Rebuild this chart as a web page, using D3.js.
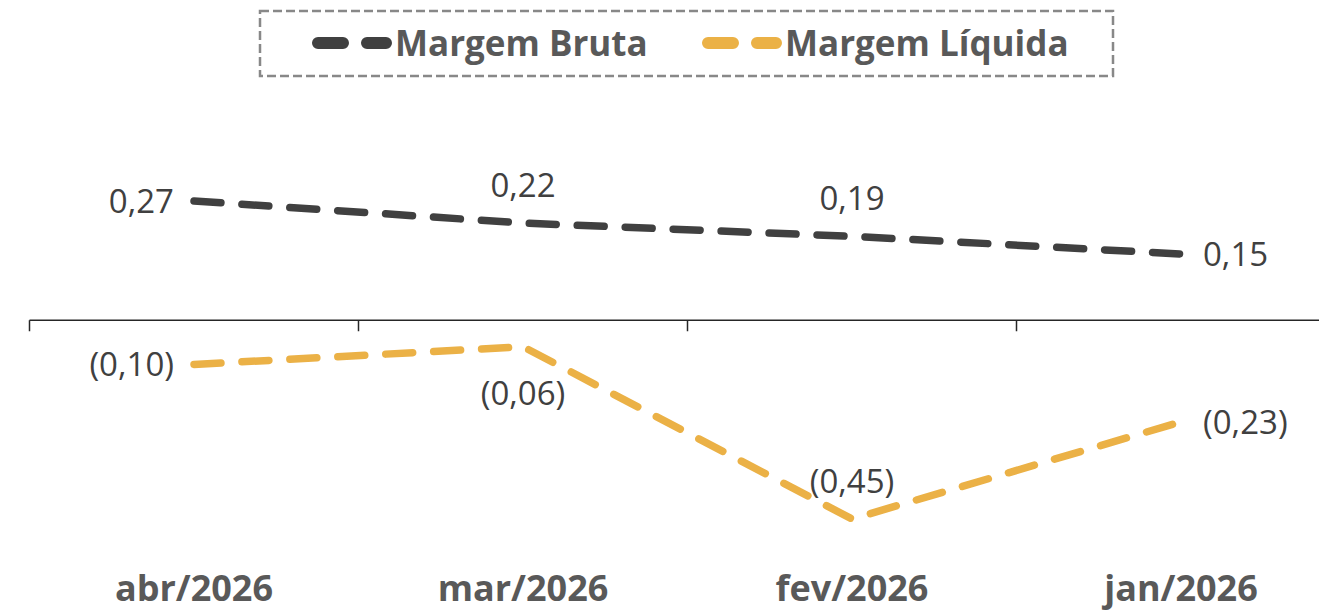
<!DOCTYPE html>
<html><head><meta charset="utf-8">
<script src="https://cdn.jsdelivr.net/npm/d3@7"></script>
<style>
html,body{margin:0;padding:0;background:#fff;}
svg{display:block;font-family:"Open Sans","Noto Sans",sans-serif;}
</style></head>
<body>
<svg id="chart" width="1319" height="612"></svg>
<script>
const categories = ["abr/2026", "mar/2026", "fev/2026", "jan/2026"];
const margemBruta = [0.27, 0.22, 0.19, 0.15];
const margemLiquida = [-0.10, -0.06, -0.45, -0.23];
const seriesNames = ["Margem Bruta", "Margem Líquida"];
const seriesColors = ["#404040", "#EBB146"];

const svg = d3.select("#chart");
const x = d3.scaleBand().domain(categories).range([29.5, 1345.5]);
const y = d3.scaleLinear().domain([-0.45, 0.27]).range([519, 201]);

function fmt(v){
  const s = Math.abs(v).toFixed(2).replace(".", ",");
  return v < 0 ? "(" + s + ")" : s;
}

// axis
const axis = svg.append("g").attr("transform", `translate(0,${y(0)})`);
axis.append("line").attr("x1", 29.5).attr("x2", 1319).attr("stroke", "#262626").attr("stroke-width", 1.5);
axis.selectAll("line.tk").data(categories).join("line").attr("class", "tk")
  .attr("x1", d => x(d)).attr("x2", d => x(d)).attr("y1", 0).attr("y2", 11)
  .attr("stroke", "#262626").attr("stroke-width", 1.5);

// x labels
svg.append("g").selectAll("text").data(categories).join("text")
  .attr("x", d => x(d) + x.bandwidth()/2)
  .attr("y", 601)
  .attr("text-anchor", "middle")
  .attr("font-size", 36).attr("font-weight", "bold").attr("fill", "#595959")
  .text(d => d);

const line = d3.line()
  .x((d, i) => x(categories[i]) + x.bandwidth()/2)
  .y(d => y(d));

const allSeries = [margemBruta, margemLiquida];
allSeries.forEach((vals, si) => {
  svg.append("path").datum(vals)
    .attr("d", line)
    .attr("fill", "none")
    .attr("stroke", seriesColors[si])
    .attr("stroke-width", 7.5)
    .attr("stroke-linecap", "round")
    .attr("stroke-linejoin", "round")
    .attr("stroke-dasharray", "27,21");
});

// data labels: placement per point
const placement = [["left", "above", "above", "right"], ["left", "below", "above", "right"]];
allSeries.forEach((vals, si) => {
  vals.forEach((v, i) => {
    const cx = x(categories[i]) + x.bandwidth()/2, cy = y(v);
    const p = placement[si][i];
    let tx = cx, ty = cy, anchor = "middle";
    if (p === "left") { tx = cx - 20; anchor = "end"; ty = cy + 12; }
    if (p === "right") { tx = cx + 22; anchor = "start"; ty = cy + 12; }
    if (p === "above") { ty = cy - 26; }
    if (p === "below") { ty = cy + 58; }
    svg.append("text").attr("x", tx).attr("y", ty).attr("text-anchor", anchor)
      .attr("font-size", 33).attr("fill", "#404040").text(fmt(v));
  });
});

// legend
const lg = svg.append("g");
lg.append("rect").attr("x", 260).attr("y", 11).attr("width", 853).attr("height", 65)
  .attr("fill", "none").attr("stroke", "#888").attr("stroke-width", 2.5).attr("stroke-dasharray", "9,4");
const legX = [318, 708];
seriesNames.forEach((n, i) => {
  lg.append("line").attr("x1", legX[i]).attr("x2", legX[i] + 68).attr("y1", 43).attr("y2", 43)
    .attr("stroke", seriesColors[i]).attr("stroke-width", 12).attr("stroke-linecap", "round")
    .attr("stroke-dasharray", "25,24");
  lg.append("text").attr("x", legX[i] + 77).attr("y", 56).attr("font-size", 35)
    .attr("font-weight", "bold").attr("fill", "#595959").text(n);
});
</script>
</body></html>
